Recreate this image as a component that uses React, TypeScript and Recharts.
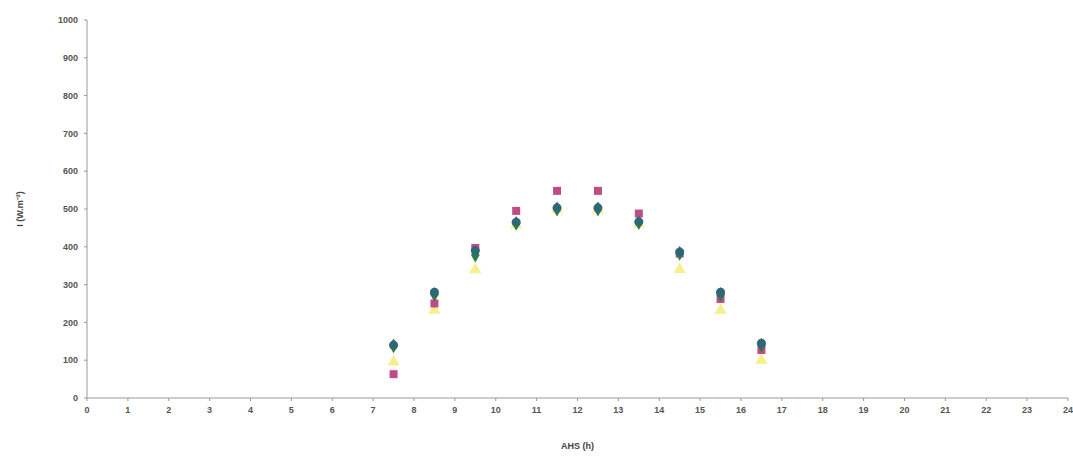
import React from 'react';
import { ScatterChart, Scatter, XAxis, YAxis, ZAxis } from 'recharts';

const hours = [7.5, 8.5, 9.5, 10.5, 11.5, 12.5, 13.5, 14.5, 15.5, 16.5];
const seriesTeal = [140, 280, 390, 465, 503, 503, 466, 386, 280, 145];
const seriesGreen = [138, 274, 378, 462, 500, 500, 464, 383, 274, 140];
const seriesMagenta = [63, 250, 397, 495, 548, 548, 488, 382, 262, 127];
const seriesYellow = [95, 232, 339, 458, 498, 498, 460, 340, 232, 100];

const xTicks = Array.from({ length: 25 }, (_, i) => i);
const yTicks = [0, 100, 200, 300, 400, 500, 600, 700, 800, 900, 1000];

const toPoints = (vals: number[]) => hours.map((h, i) => ({ x: h, y: vals[i] }));

const tickStyle = { fontSize: 9, fill: '#555', fontWeight: 700, fontFamily: 'Liberation Sans, Arial, sans-serif' };

const App: React.FC = () => {
    return (
        <div style={{ position: 'absolute', left: 0, top: 0, width: 1073, height: 457, background: '#fff' }}>
            <ScatterChart width={1073} height={457} margin={{ top: 20, right: 5, left: 40, bottom: 20 }}>
                <XAxis
                    type="number"
                    dataKey="x"
                    domain={[0, 24]}
                    ticks={xTicks}
                    interval={0}
                    stroke="#999"
                    tick={tickStyle}
                    tickSize={3}
                    tickMargin={6}
                    height={39}
                    label={{ value: 'AHS (h)', position: 'insideBottom', offset: -12, style: { ...tickStyle, fill: '#444' } }}
                />
                <YAxis
                    type="number"
                    dataKey="y"
                    domain={[0, 1000]}
                    ticks={yTicks}
                    interval={0}
                    stroke="#999"
                    tick={tickStyle}
                    tickSize={3}
                    tickMargin={6}
                    width={47}
                    label={{ value: 'I (W.m⁻²)', angle: -90, position: 'insideLeft', offset: -20, style: { ...tickStyle, fill: '#444', textAnchor: 'middle' } }}
                />
                <ZAxis range={[130, 130]} />
                <Scatter data={toPoints(seriesYellow)} fill="#f5f08a" shape="triangle" isAnimationActive={false} />
                <Scatter data={toPoints(seriesMagenta)} fill="#c04c86" shape="square" isAnimationActive={false} />
                <Scatter data={toPoints(seriesGreen)} fill="#2f7a45" shape="diamond" isAnimationActive={false} />
                <Scatter data={toPoints(seriesTeal)} fill="#2e6878" shape="circle" isAnimationActive={false} />
            </ScatterChart>
        </div>
    );
};

export default App;
